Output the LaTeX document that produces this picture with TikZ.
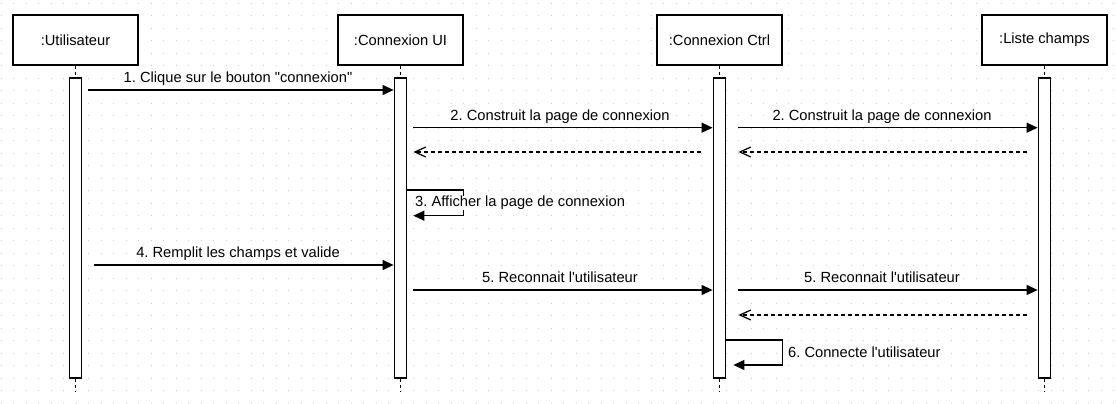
\documentclass[tikz,border=0pt]{standalone}
\usepackage{fontspec}
\setmainfont{Liberation Sans}
\usetikzlibrary{arrows.meta}
\frenchspacing

\begin{document}
\begin{tikzpicture}[x=1pt, y=-1pt, node distance=325pt,
        font=\fontsize{14.7}{17}\selectfont,
        objbox/.style={draw, fill=white, line width=1.3pt, minimum width=125pt, minimum height=50pt, inner sep=0pt},
        actbar/.style={draw, fill=white, line width=1.3pt, minimum width=12.5pt, minimum height=300pt, inner sep=0pt},
        lifeline/.style={line width=1.2pt, dash pattern=on 3pt off 3pt},
        msg/.style={line width=1.2pt, -{Triangle[length=11pt,width=10pt]}},
        reply/.style={line width=1.2pt, dash pattern=on 4pt off 3pt, -{Straight Barb[length=11pt,width=10pt,line width=1.2pt]}},
        lbl/.style={fill=white, inner sep=0pt, text height=11pt, text depth=3pt},
        griddot/.style={gray!40, line width=1pt, dash pattern=on 1pt off 11.5pt}]
        \fill[white] (0,0) rectangle (1117,404);
        \useasboundingbox (0,0) rectangle (1117,404);
        \foreach \j in {0,...,32}
            \draw[griddot] (0.5,3.3+12.5*\j) -- (1117,3.3+12.5*\j);

        % objects
        \node[objbox, name=usr] at (75.5,40) {:Utilisateur};
        \node[objbox, name=ui, right of=usr] {:Connexion UI};
        \node[objbox, name=ctrl, node distance=319pt, right of=ui] {:Connexion Ctrl};
        \node[objbox, name=lst, right of=ctrl] {:Liste champs};

        % activation bars
        \node[actbar, name=actU, node distance=188pt, below of=usr] {};
        \node[actbar, name=actUI, node distance=188pt, below of=ui] {};
        \node[actbar, name=actCt, node distance=188pt, below of=ctrl] {};
        \node[actbar, name=actL, node distance=188pt, below of=lst] {};

        % lifelines
        \foreach \o/\a in {usr/actU, ui/actUI, ctrl/actCt, lst/actL} {
            \coordinate (end\a) at ([yshift=-13pt]\a.south);
            \draw[lifeline] (\o) -- (\a);
            \draw[lifeline] (\a) -- (end\a);
        }

        % message rows
        \coordinate (row1) at (0,90);
        \coordinate (row2) at (0,127.7);
        \coordinate (rep2) at (0,152);
        \coordinate (row3) at (0,190);
        \coordinate (row3b) at (0,215.7);
        \coordinate (row4) at (0,265);
        \coordinate (row5) at (0,290);
        \coordinate (rep5) at (0,315);
        \coordinate (row6) at (0,340);
        \coordinate (row6b) at (0,365);

        \draw[msg, shorten <=6pt] (actU.east |- row1) -- (actUI.west |- row1)
            node[lbl, midway, above=4pt] {1. Clique sur le bouton \textquotedbl connexion\textquotedbl};

        \draw[msg, shorten <=6pt] (actUI.east |- row2) -- (actCt.west |- row2)
            node[lbl, midway, above=4pt] {2. Construit la page de connexion};
        \draw[msg, shorten <=12pt] (actCt.east |- row2) -- (actL.west |- row2)
            node[lbl, midway, above=4pt] {2. Construit la page de connexion};
        \draw[reply, shorten <=11pt, shorten >=12pt] (actL.west |- rep2) -- (actCt.east |- rep2);
        \draw[reply, shorten <=12pt, shorten >=6pt] (actCt.west |- rep2) -- (actUI.east |- rep2);

        \draw[msg, shorten >=6pt] (actUI.east |- row3) -- ++(56,0) |- (actUI.east |- row3b);
        \node[lbl, anchor=west, name=m3] at (415,202.7) {3. Afficher la page de connexion};

        \draw[msg, shorten <=12pt] (actU.east |- row4) -- (actUI.west |- row4)
            node[lbl, midway, above=4pt] {4. Remplit les champs et valide};

        \draw[msg, shorten <=6pt] (actUI.east |- row5) -- (actCt.west |- row5)
            node[lbl, midway, above=4pt] {5. Reconnait l\textquotesingle utilisateur};
        \draw[msg, shorten <=12pt] (actCt.east |- row5) -- (actL.west |- row5)
            node[lbl, midway, above=4pt] {5. Reconnait l\textquotesingle utilisateur};
        \draw[reply, shorten <=11pt, shorten >=12pt] (actL.west |- rep5) -- (actCt.east |- rep5);

        \draw[msg, shorten >=7pt] (actCt.east |- row6) -- ++(56,0) |- (actCt.east |- row6b);
        \node[lbl, anchor=west, name=m6] at (788,353.3) {6. Connecte l\textquotesingle utilisateur};
    \end{tikzpicture}
\end{document}
